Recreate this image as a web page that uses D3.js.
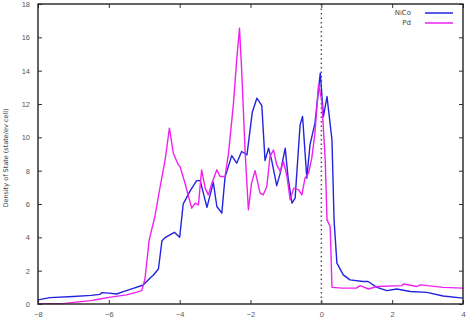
<!DOCTYPE html>
<html>
<head>
<meta charset="utf-8">
<script src="https://cdn.jsdelivr.net/npm/d3@7"></script>
<style>
  body { margin: 0; background: #fff; }
  svg { display: block; font-family: "DejaVu Sans", sans-serif; }
</style>
</head>
<body>
<script>
// Data

const nicoEnergy = [-8, -7.66, -7, -6.5, -6.25, -6.2, -6.0, -5.78, -5.59, -5.31, -5.03, -4.84, -4.74, -4.6, -4.5, -4.4, -4.15, -4.0, -3.9, -3.85, -3.7, -3.52, -3.42, -3.23, -3.05, -2.95, -2.81, -2.72, -2.53, -2.39, -2.25, -2.1, -1.95, -1.82, -1.68, -1.59, -1.49, -1.4, -1.26, -1.16, -1.02, -0.94, -0.83, -0.74, -0.6, -0.53, -0.41, -0.32, -0.18, -0.03, 0.06, 0.16, 0.3, 0.36, 0.44, 0.62, 0.81, 1.18, 1.32, 1.57, 1.85, 2.13, 2.51, 2.98, 3.44, 4.0]
const nicoDos = [0.25, 0.38, 0.45, 0.52, 0.58, 0.68, 0.65, 0.6, 0.74, 0.94, 1.14, 1.55, 1.74, 2.1, 3.8, 4.0, 4.3, 4.0, 6.0, 6.2, 6.8, 7.4, 7.4, 5.8, 7.3, 5.85, 5.45, 7.6, 8.9, 8.45, 9.15, 8.95, 11.5, 12.35, 11.9, 8.6, 9.35, 8.6, 7.1, 7.85, 9.35, 7.6, 6.05, 6.35, 10.75, 11.25, 7.55, 9.55, 10.85, 13.85, 11.25, 12.45, 9.85, 5.0, 2.45, 1.75, 1.45, 1.35, 1.35, 1.0, 0.8, 0.9, 0.75, 0.7, 0.48, 0.35]

const pdEnergy = [-8, -7.3, -7.0, -6.5, -6.25, -6.0, -5.5, -5.31, -5.07, -4.98, -4.86, -4.7, -4.55, -4.41, -4.29, -4.18, -4.04, -3.99, -3.85, -3.75, -3.66, -3.56, -3.47, -3.38, -3.28, -3.19, -3.09, -2.95, -2.86, -2.72, -2.62, -2.48, -2.39, -2.31, -2.25, -2.15, -2.06, -1.97, -1.87, -1.73, -1.64, -1.54, -1.45, -1.35, -1.26, -1.16, -1.07, -0.97, -0.88, -0.78, -0.64, -0.55, -0.46, -0.36, -0.27, -0.18, -0.08, 0.01, 0.11, 0.16, 0.25, 0.3, 0.6, 0.99, 1.1, 1.33, 1.57, 2.27, 2.32, 2.7, 2.79, 3.44, 4.0]
const pdDos = [0.02, 0.02, 0.1, 0.2, 0.3, 0.4, 0.55, 0.65, 0.8, 1.5, 3.85, 5.25, 7.05, 8.65, 10.55, 9.05, 8.35, 8.25, 7.25, 6.45, 5.75, 6.05, 5.95, 8.05, 6.95, 6.55, 7.25, 8.05, 7.65, 7.65, 9.05, 12.05, 14.65, 16.55, 14.05, 9.05, 5.65, 7.25, 8.0, 6.65, 6.55, 7.05, 8.85, 9.25, 8.35, 7.95, 8.55, 7.65, 6.25, 6.95, 6.85, 6.55, 7.55, 7.85, 8.75, 10.25, 13.15, 12.25, 8.65, 5.05, 4.65, 1.0, 0.95, 0.95, 1.1, 0.9, 1.05, 1.1, 1.2, 1.05, 1.15, 1.0, 0.95]

const xTicks = [-8, -6, -4, -2, 0, 2, 4]
const yTicks = [0, 2, 4, 6, 8, 10, 12, 14, 16, 18]

const series = [
  { name: "NiCo", color: "#2323e0", x: nicoEnergy, y: nicoDos },
  { name: "Pd", color: "#f020f0", x: pdEnergy, y: pdDos },
]

// Dimensions
const width = 472
const height = 323
const margin = { top: 4, right: 9, bottom: 19, left: 38 }
const plotWidth = width - margin.left - margin.right
const plotHeight = height - margin.top - margin.bottom

const svg = d3
  .select("body")
  .append("svg")
  .attr("width", width)
  .attr("height", height)

const plot = svg
  .append("g")
  .attr("transform", `translate(${margin.left}, ${margin.top})`)

// Scales
const x = d3.scaleLinear().domain([-8, 4]).range([0, plotWidth])
const y = d3.scaleLinear().domain([0, 18]).range([plotHeight, 0])

// Axes, ticks pointing inwards on all four sides
const tickStyle = g => {
  g.select(".domain").remove()
  g.selectAll(".tick line").attr("stroke", "#333").attr("stroke-width", 1)
  g.selectAll(".tick text")
    .attr("fill", "#555")
    .style("font-size", "7.5px")
}

plot
  .append("g")
  .attr("transform", `translate(0, ${plotHeight})`)
  .call(d3.axisBottom(x).tickValues(xTicks).tickSizeInner(-4).tickPadding(8))
  .call(tickStyle)

plot
  .append("g")
  .call(d3.axisTop(x).tickValues(xTicks).tickSizeInner(-4).tickFormat(""))
  .call(tickStyle)

plot
  .append("g")
  .call(d3.axisLeft(y).tickValues(yTicks).tickSizeInner(-4).tickPadding(8))
  .call(tickStyle)

plot
  .append("g")
  .attr("transform", `translate(${plotWidth}, 0)`)
  .call(d3.axisRight(y).tickValues(yTicks).tickSizeInner(-4).tickFormat(""))
  .call(tickStyle)

// Fermi level
plot
  .append("line")
  .attr("x1", x(0))
  .attr("x2", x(0))
  .attr("y1", 0)
  .attr("y2", plotHeight)
  .attr("stroke", "#555")
  .attr("stroke-width", 1.5)
  .attr("stroke-dasharray", "1.5,3")

// Lines
const line = d3
  .line()
  .x(d => x(d[0]))
  .y(d => y(d[1]))

series.forEach(s => {
  plot
    .append("path")
    .datum(d3.zip(s.x, s.y))
    .attr("d", line)
    .attr("fill", "none")
    .attr("stroke", s.color)
    .attr("stroke-width", 1.4)
    .attr("stroke-linejoin", "round")
})

// Frame
plot
  .append("rect")
  .attr("width", plotWidth)
  .attr("height", plotHeight)
  .attr("fill", "none")
  .attr("stroke", "#222")
  .attr("stroke-width", 1.4)

// Legend
const legend = plot
  .append("g")
  .selectAll("g")
  .data(series)
  .join("g")
  .attr("transform", (d, i) => `translate(0, ${9 + i * 10})`)

legend
  .append("text")
  .attr("x", 373)
  .attr("dy", "0.35em")
  .attr("text-anchor", "end")
  .attr("fill", "#444")
  .style("font-size", "7px")
  .text(d => d.name)

legend
  .append("line")
  .attr("x1", 387)
  .attr("x2", 415)
  .attr("stroke", d => d.color)
  .attr("stroke-width", 1.5)

// Y label
svg
  .append("text")
  .attr("transform", `translate(8, ${margin.top + plotHeight / 2 + 4}) rotate(-90)`)
  .attr("text-anchor", "middle")
  .attr("fill", "#444")
  .style("font-size", "6.5px")
  .text("Density of State (state/ev cell)")
</script>
</body>
</html>
